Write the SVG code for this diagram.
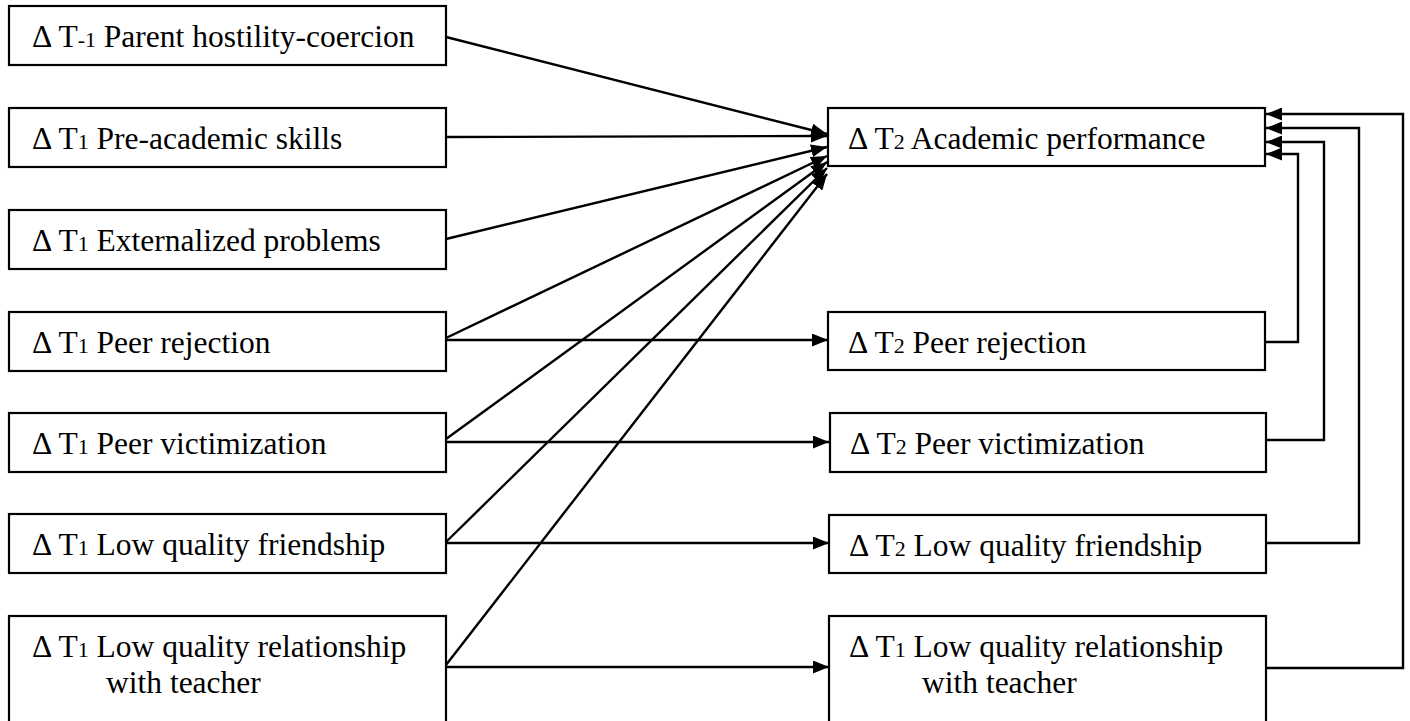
<svg xmlns="http://www.w3.org/2000/svg" width="1410" height="721" viewBox="0 0 1410 721">
<style>
.box{fill:#fff;stroke:#000;stroke-width:2.2}
.t{font-family:"Liberation Serif","Times New Roman",serif;font-size:31.5px;fill:#000}
.s{font-size:22px}
.c{fill:none;stroke:#000;stroke-width:2.4;marker-end:url(#ah)}
</style>
<defs>
<marker id="ah" markerUnits="userSpaceOnUse" markerWidth="16" markerHeight="13" refX="16" refY="6.5" orient="auto">
<path d="M0,0 L16,6.5 L0,13 z" fill="#000"/>
</marker>
</defs>
<rect width="1410" height="721" fill="#fff"/>
<g id="connectors">
<line class="c" x1="446" y1="37" x2="827" y2="134"/>
<line class="c" x1="446" y1="137" x2="827" y2="136"/>
<line class="c" x1="446" y1="239" x2="827" y2="147"/>
<line class="c" x1="446" y1="338" x2="827" y2="156"/>
<line class="c" x1="446" y1="439" x2="827" y2="162"/>
<line class="c" x1="446" y1="542" x2="827" y2="168"/>
<line class="c" x1="446" y1="665" x2="827" y2="174"/>
<line class="c" x1="446" y1="340" x2="828" y2="340"/>
<line class="c" x1="446" y1="442" x2="829" y2="442"/>
<line class="c" x1="446" y1="543" x2="829" y2="543"/>
<line class="c" x1="446" y1="667" x2="829" y2="667"/>
<path class="c" d="M1265,342 H1298 V154 H1266"/>
<path class="c" d="M1266,440 H1324 V142 H1266"/>
<path class="c" d="M1266,543 H1359 V128 H1266"/>
<path class="c" d="M1266,668 H1403 V114 H1266"/>
</g>
<g id="l1"><rect class="box" x="9" y="6" width="437" height="59"/><text class="t" x="32" y="47">Δ T<tspan class="s">-1</tspan> Parent hostility-coercion</text></g>
<g id="l2"><rect class="box" x="9" y="108" width="437" height="59"/><text class="t" x="32" y="149">Δ T<tspan class="s">1</tspan> Pre-academic skills</text></g>
<g id="l3"><rect class="box" x="9" y="210" width="437" height="59"/><text class="t" x="32" y="251">Δ T<tspan class="s">1</tspan> Externalized problems</text></g>
<g id="l4"><rect class="box" x="9" y="312" width="437" height="59"/><text class="t" x="32" y="353">Δ T<tspan class="s">1</tspan> Peer rejection</text></g>
<g id="l5"><rect class="box" x="9" y="413" width="437" height="59"/><text class="t" x="32" y="454">Δ T<tspan class="s">1</tspan> Peer victimization</text></g>
<g id="l6"><rect class="box" x="9" y="514" width="437" height="59"/><text class="t" x="32" y="555">Δ T<tspan class="s">1</tspan> Low quality friendship</text></g>
<g id="l7"><rect class="box" x="9" y="616" width="437" height="120"/><text class="t" x="32" y="657">Δ T<tspan class="s">1</tspan> Low quality relationship</text><text class="t" x="106" y="693">with teacher</text></g>
<g id="r1"><rect class="box" x="828" y="108" width="437" height="58"/><text class="t" x="848" y="149">Δ T<tspan class="s">2</tspan> Academic performance</text></g>
<g id="r2"><rect class="box" x="828" y="312" width="437" height="58"/><text class="t" x="848" y="353">Δ T<tspan class="s">2</tspan> Peer rejection</text></g>
<g id="r3"><rect class="box" x="830" y="413" width="436" height="59"/><text class="t" x="850" y="454">Δ T<tspan class="s">2</tspan> Peer victimization</text></g>
<g id="r4"><rect class="box" x="829" y="515" width="437" height="58"/><text class="t" x="849" y="556">Δ T<tspan class="s">2</tspan> Low quality friendship</text></g>
<g id="r5"><rect class="box" x="829" y="616" width="437" height="120"/><text class="t" x="849" y="657">Δ T<tspan class="s">1</tspan> Low quality relationship</text><text class="t" x="922" y="693">with teacher</text></g>
</svg>
